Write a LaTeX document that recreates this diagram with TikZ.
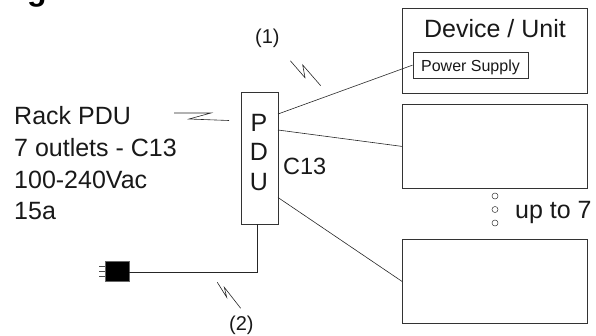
\documentclass[tikz,border=0pt]{standalone}
\usepackage{fontspec}
\setmainfont{Liberation Sans}
\begin{document}
\begin{tikzpicture}[x=1pt,y=-1pt,
  box/.style={draw=black!80,line width=0.8pt,fill=white,inner sep=0pt,anchor=north west},
  wire/.style={draw=black!85,line width=0.6pt},
  cord/.style={draw=black!85,line width=1.5pt},
  lab/.style={inner sep=0pt,anchor=base west,font=\fontsize{25}{28}\selectfont,text=black!90},
  mid/.style={inner sep=0pt,anchor=base,font=\fontsize{25}{28}\selectfont,text=black!90},
  dotc/.style={circle,draw=black!80,line width=0.5pt,minimum size=6pt,inner sep=0pt}]
\useasboundingbox (0,0) rectangle (596,335);
\begin{scope}
\clip (0,0) rectangle (596,335);
\node[inner sep=0pt,anchor=base,font=\fontsize{32}{34}\bfseries\selectfont] (g) at (37,0.5) {g};
\end{scope}
\node[box,minimum width=185pt,minimum height=85pt] (dev) at (402,7.5) {};
\node[box,minimum width=185pt,minimum height=84pt] (d2) at (402,104) {};
\node[box,minimum width=185pt,minimum height=84pt] (d3) at (402,239) {};
\node[box,minimum width=115.5pt,minimum height=25.5pt] (ps) at (412.5,52) {};
\node[box,minimum width=37pt,minimum height=132pt] (pdu) at (240.5,91.5) {};
\node[mid] (t1) at (495,37) {Device / Unit};
\node[mid,font=\fontsize{16}{18}\selectfont] (t2) at (470.5,71) {Power Supply};
\node[mid] (p) at (259,131) {P};
\node[mid] (dd) at (259,160) {D};
\node[mid] (u) at (259,190) {U};
\node[lab] (a1) at (14,124) {Rack PDU};
\node[lab] (a2) at (14,156) {7 outlets - C13};
\node[lab] (a3) at (14,188) {100-240Vac};
\node[lab] (a4) at (14,219) {15a};
\node[lab,font=\fontsize{23.5}{26}\selectfont] (c) at (283,174) {C13};
\node[lab] (up) at (515,218) {up to 7};
\node[lab,font=\fontsize{20}{23}\selectfont] (n1) at (255,43) {(1)};
\node[lab,font=\fontsize{20}{23}\selectfont] (n2) at (229,330) {(2)};
\node[dotc] (o1) at (495,196) {};
\node[dotc] (o2) at (495,209.5) {};
\node[dotc] (o3) at (495,223) {};
\coordinate (w1) at (278,114);
\coordinate (w2) at (278,130);
\coordinate (w3) at (278,197.5);
\draw[wire] (w1) -- (ps.west);
\draw[wire] (w2) -- (d2.west);
\draw[wire] (w3) -- (d3.west);
\node[fill=black,draw=black!60,line width=0.4pt,minimum width=24pt,minimum height=20pt,inner sep=0pt] (plug) at (117,271) {};
\coordinate (pdub) at (257.3,224);
\coordinate (cc) at (257.3,272.5);
\draw[cord] (pdub) -- (cc) -- (plug.east |- cc);
\foreach \yy in {266,271.5,276.5}{\draw[black!70,line width=0.8pt] (99,\yy) -- (105,\yy);}
% break marks
\draw[wire] (174,113) -- (211,113) -- (189,119) -- (229,120.5);
\draw[wire] (290.3,60.7) -- (305,77.7) -- (302.7,65) -- (320.7,85.7);
\draw[wire] (217.3,282.3) -- (226.7,297.3) -- (224.3,287.3) -- (240.7,308.3);
\end{tikzpicture}
\end{document}
